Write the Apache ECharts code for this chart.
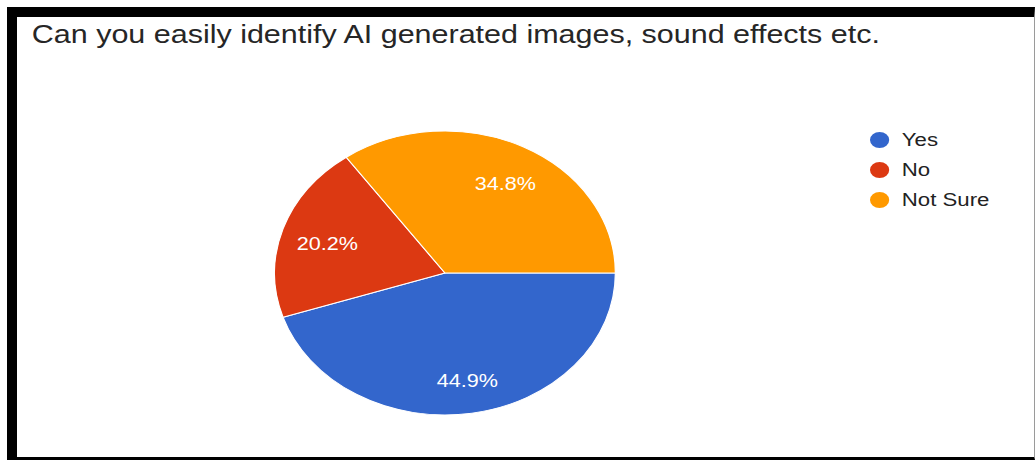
<!DOCTYPE html>
<html>
<head>
<meta charset="utf-8">
<title>Can you easily identify AI generated images, sound effects etc.</title>
<script src="https://cdn.jsdelivr.net/npm/echarts@6/dist/echarts.min.js"></script>
<style>
  html, body { margin: 0; padding: 0; background: #fff; }
  #page { position: relative; width: 1035px; height: 460px; overflow: hidden; background: #fff; }
  #frame {
    position: absolute; left: 7px; top: 7px; width: 1028px; height: 453px;
    box-sizing: border-box;
    border-top: 10px solid #000; border-left: 10px solid #000;
    border-bottom: 3px solid #000; border-right: 1px solid #9a9a9a;
  }
  /* the chart is laid out narrower and widened, giving the oval pie */
  #chart {
    position: absolute; left: 0; top: 0; width: 862.5px; height: 460px;
    transform: scaleX(1.2); transform-origin: 0 0;
  }
</style>
</head>
<body>
<div id="page">
  <div id="frame"></div>
  <div id="chart"></div>
</div>
<script>
// Survey answers and their shares (percent)
const categories = ['Yes', 'No', 'Not Sure'];
const shares = [44.9, 20.2, 34.8];
const titleText = 'Can you easily identify AI generated images, sound effects etc.';

const pieData = categories.map((name, i) => ({ name: name, value: shares[i] }));

const chart = echarts.init(document.getElementById('chart'), null, { renderer: 'svg' });

const FONT = '"Liberation Sans", Arial, sans-serif';
const CENTER = [370.8, 273];
const R = 142;

chart.setOption({
  backgroundColor: 'transparent',
  color: ['#3366cc', '#dc3912', '#ff9900'],
  animation: false,
  title: {
    text: titleText,
    left: 26.5,
    top: 22,
    padding: 0,
    textStyle: { fontFamily: FONT, fontSize: 25.4, fontWeight: 'normal', color: '#262626' }
  },
  legend: {
    orient: 'vertical',
    left: 723,
    top: 130,
    padding: 0,
    itemGap: 10,
    itemWidth: 21,
    itemHeight: 18,
    icon: 'path://M0,50 A50,50 0 1,0 100,50 A50,50 0 1,0 0,50 Z',
    selectedMode: false,
    textStyle: { fontFamily: FONT, fontSize: 18.5, lineHeight: 18, color: '#222222', padding: [0, 0, 0, 3] }
  },
  series: [
    {
      // slices
      type: 'pie',
      center: CENTER,
      radius: [0, R],
      startAngle: 0,
      clockwise: true,
      label: { show: false },
      labelLine: { show: false },
      itemStyle: { borderColor: '#ffffff', borderWidth: 1 },
      emphasis: { disabled: true },
      data: pieData
    },
    {
      // percentage labels, placed further out than the mid radius
      type: 'pie',
      center: CENTER,
      radius: [0.44 * R, R],
      startAngle: 0,
      clockwise: true,
      silent: true,
      itemStyle: { color: 'rgba(0,0,0,0)', borderWidth: 0 },
      emphasis: { disabled: true },
      label: {
        show: true,
        position: 'inside',
        formatter: '{c}%',
        offset: [2, 4],
        color: '#ffffff',
        fontFamily: FONT,
        fontSize: 18
      },
      labelLine: { show: false },
      data: pieData
    }
  ]
});
</script>
</body>
</html>
